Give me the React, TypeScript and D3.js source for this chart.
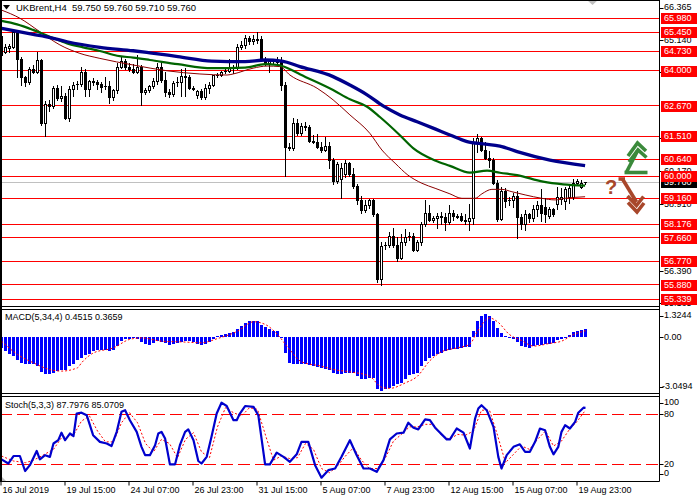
import React from 'react';
import * as d3 from 'd3';

// ---------- DATA ----------
const dateLabels = ['16 Jul 2019', '19 Jul 15:00', '24 Jul 07:00', '26 Jul 23:00', '31 Jul 15:00', '5 Aug 07:00', '7 Aug 23:00', '12 Aug 15:00', '15 Aug 07:00', '19 Aug 23:00'];
const dateLabelBars = [0, 16, 32, 48, 64, 80, 96, 112, 128, 144];

// [open, high, low, close] per H4 bar
const ohlc: [number, number, number, number][] = [
  [65.30, 65.47, 64.55, 64.60], [64.72, 65.00, 64.65, 64.88], [64.85, 65.00, 64.72, 64.94], [64.90, 65.55, 64.85, 65.45], [65.45, 65.55, 63.75, 64.45],
  [64.45, 64.50, 63.45, 63.75], [63.75, 63.80, 63.40, 63.55], [63.55, 64.15, 63.50, 64.05], [64.05, 64.20, 63.90, 63.95], [63.95, 64.72, 63.90, 64.40],
  [64.40, 64.45, 61.95, 62.00], [62.00, 62.85, 61.53, 62.75], [62.75, 62.90, 62.45, 62.65], [62.65, 63.40, 62.60, 63.35], [63.35, 63.45, 62.90, 62.95],
  [62.95, 63.40, 62.85, 63.05], [63.05, 63.15, 62.15, 62.20], [62.20, 63.40, 62.10, 63.30], [63.30, 63.55, 63.05, 63.45], [63.45, 63.60, 63.30, 63.50],
  [63.50, 64.15, 63.40, 63.95], [63.95, 64.05, 63.05, 63.30], [63.30, 63.65, 63.05, 63.60], [63.60, 63.70, 63.45, 63.55], [63.55, 63.65, 63.30, 63.50],
  [63.50, 63.55, 63.20, 63.38], [63.38, 63.75, 63.30, 63.42], [63.42, 63.60, 62.76, 63.00], [63.00, 63.30, 62.90, 63.25], [63.25, 64.30, 63.15, 64.15],
  [64.15, 64.55, 64.10, 64.35], [64.35, 64.45, 64.05, 64.15], [64.15, 64.30, 64.00, 64.05], [64.05, 64.25, 63.90, 63.95], [63.95, 64.60, 63.90, 64.15],
  [64.15, 64.20, 62.70, 63.20], [63.20, 63.35, 63.10, 63.25], [63.25, 63.45, 63.20, 63.40], [63.40, 63.70, 63.35, 63.62], [63.62, 64.30, 63.50, 64.15],
  [64.15, 64.30, 63.55, 63.65], [63.65, 63.95, 63.05, 63.20], [63.20, 63.30, 63.00, 63.10], [63.10, 63.60, 63.05, 63.52], [63.52, 63.75, 63.40, 63.55],
  [63.55, 64.05, 63.05, 63.80], [63.80, 64.10, 63.05, 63.75], [63.75, 63.85, 63.30, 63.35], [63.35, 63.42, 63.28, 63.30], [63.06, 63.25, 62.95, 63.22],
  [63.22, 63.30, 62.92, 62.98], [62.98, 63.50, 62.92, 63.33], [63.33, 63.55, 63.15, 63.45], [63.45, 63.85, 63.40, 63.83], [63.83, 63.90, 63.75, 63.85],
  [63.85, 64.00, 63.80, 63.95], [63.95, 64.05, 63.90, 64.00], [64.00, 64.45, 63.95, 64.12], [64.12, 64.20, 63.90, 64.10], [64.10, 65.00, 64.05, 64.90],
  [64.88, 65.10, 64.80, 64.95], [64.95, 65.35, 64.85, 65.25], [65.25, 65.30, 65.00, 65.10], [65.10, 65.35, 65.00, 65.20], [65.20, 65.47, 65.05, 65.18],
  [65.18, 65.30, 64.35, 64.40], [64.40, 64.50, 64.20, 64.30], [64.30, 64.45, 63.95, 64.35], [64.35, 64.45, 64.25, 64.38], [64.38, 64.50, 64.30, 64.35],
  [64.35, 64.50, 63.25, 63.45], [63.45, 63.55, 60.00, 61.10], [61.10, 61.25, 61.00, 61.08], [61.08, 62.20, 61.00, 62.00], [62.00, 62.15, 61.55, 61.62],
  [61.62, 62.00, 61.55, 61.90], [61.90, 62.05, 61.75, 61.85], [61.85, 61.95, 61.30, 61.35], [61.35, 61.55, 61.25, 61.30], [61.30, 61.60, 61.05, 61.12],
  [61.12, 61.30, 60.90, 61.00], [61.00, 61.50, 60.95, 61.15], [61.15, 61.30, 60.30, 60.60], [60.60, 60.70, 59.70, 59.80], [59.80, 60.55, 59.75, 60.45],
  [59.90, 60.50, 59.16, 60.30], [60.10, 60.60, 59.95, 60.50], [60.50, 60.55, 60.00, 60.10], [60.10, 60.30, 59.55, 59.62], [59.62, 59.70, 58.95, 59.10],
  [59.10, 59.25, 58.60, 58.70], [58.70, 59.10, 58.65, 58.90], [58.90, 59.15, 58.80, 59.08], [59.08, 59.15, 58.50, 58.55], [58.55, 58.60, 56.00, 56.10],
  [56.10, 57.50, 55.88, 57.35], [57.35, 57.50, 57.25, 57.40], [57.40, 57.90, 57.30, 57.75], [57.75, 58.05, 57.30, 57.40], [57.40, 57.70, 56.80, 56.90],
  [56.90, 57.80, 56.85, 57.50], [57.50, 58.00, 57.40, 57.70], [57.70, 57.90, 57.60, 57.75], [57.75, 57.85, 57.15, 57.20], [57.20, 57.60, 57.15, 57.50],
  [57.50, 58.25, 57.40, 58.18], [58.18, 59.10, 58.10, 58.60], [58.60, 58.90, 58.30, 58.35], [58.35, 58.50, 58.25, 58.40], [58.40, 58.60, 58.05, 58.50],
  [58.50, 58.65, 58.20, 58.45], [58.45, 58.60, 57.95, 58.25], [58.25, 58.90, 58.20, 58.60], [58.60, 58.70, 58.35, 58.50], [58.50, 58.55, 58.40, 58.48],
  [58.48, 58.60, 58.30, 58.35], [58.35, 58.55, 58.20, 58.30], [58.30, 58.95, 57.95, 58.40], [58.40, 61.45, 58.20, 61.30], [61.30, 61.60, 60.90, 61.45],
  [61.45, 61.50, 60.95, 61.00], [61.00, 61.30, 60.65, 60.70], [60.70, 60.95, 60.35, 60.60], [60.60, 60.70, 59.70, 59.75], [59.75, 59.85, 58.30, 58.38],
  [58.38, 59.60, 58.35, 59.45], [59.45, 59.55, 58.85, 59.05], [59.05, 59.20, 58.90, 59.10], [59.10, 59.35, 58.85, 59.25], [59.25, 59.45, 57.66, 58.45],
  [58.45, 58.55, 58.00, 58.20], [58.20, 58.70, 57.95, 58.58], [58.58, 58.60, 58.25, 58.40], [58.40, 58.90, 58.30, 58.75], [58.75, 59.05, 58.50, 58.90],
  [58.90, 59.50, 58.30, 58.60], [58.85, 59.16, 58.28, 58.57], [58.50, 58.85, 58.40, 58.74], [58.74, 58.80, 58.50, 58.55], [58.95, 59.60, 58.75, 59.20],
  [59.15, 59.55, 58.95, 59.22], [59.05, 59.60, 58.75, 59.50], [59.20, 59.70, 59.00, 59.55], [59.22, 59.90, 59.15, 59.75], [59.75, 59.88, 59.70, 59.80],
  [59.60, 59.85, 59.55, 59.75], [59.75, 59.76, 59.71, 59.76],
];

const levelPrices = [65.98, 65.45, 64.73, 64.0, 62.67, 61.51, 60.64, 60.0, 59.16, 58.176, 57.66, 56.77, 55.88, 55.339];
const levelLabels = ['65.980', '65.450', '64.730', '64.000', '62.670', '61.510', '60.640', '60.000', '59.160', '58.176', '57.660', '56.770', '55.880', '55.339'];
const priceTicks = [66.365, 65.14, 63.915, 61.43, 60.17, 58.91, 56.39, 55.165];
const priceTickLabels = ['66.365', '65.140', '63.915', '61.430', '60.170', '58.910', '56.390', '55.165'];
const currentPrice = 59.76;
const titleText = 'UKBrent,H4  59.750 59.760 59.710 59.760';

// moving averages: [bar, price]
const maBlue: [number, number][] = [
  [0, 65.6], [7.9, 65.37], [12.1, 65.25], [16.4, 65.09], [24.6, 64.88], [32.9, 64.75], [37.1, 64.67], [44.1, 64.53], [52.6, 64.36],
  [60.9, 64.34], [65.9, 64.4], [70.1, 64.36], [74.6, 64.15], [82.9, 63.77], [87.1, 63.45], [91.4, 63.08], [95.4, 62.66], [99.6, 62.32],
  [103.9, 62.06], [107.9, 61.82], [112.1, 61.56], [116.4, 61.31], [120.4, 61.22], [124.6, 61.14], [128.9, 60.93], [137.1, 60.61], [145.9, 60.4],
];
const maGreen: [number, number][] = [
  [0, 65.88], [3.9, 65.75], [7.9, 65.54], [12.1, 65.28], [16.4, 65.03], [20.4, 64.88], [24.6, 64.74], [28.9, 64.56], [32.9, 64.49],
  [37.1, 64.4], [44.1, 64.24], [52.6, 64.09], [60.9, 64.11], [65.9, 64.24], [69.1, 64.21], [71.6, 64.09], [74.6, 63.86], [82.9, 63.26],
  [87.1, 62.91], [91.4, 62.63], [94.6, 62.24], [99.6, 61.55], [102.9, 61.06], [108.4, 60.59], [112.1, 60.39], [117.1, 60.13], [121.4, 60.21],
  [124.6, 60.13], [128.9, 60.04], [135.4, 59.79], [140.4, 59.69], [145.9, 59.64],
];
const maBrown: [number, number][] = [
  [0, 66.29], [4.6, 65.98], [9.6, 65.47], [14.6, 64.97], [19.6, 64.65], [24.6, 64.46], [32.9, 64.21], [41.4, 63.99], [49.6, 63.87],
  [56.4, 63.83], [57.9, 63.87], [62.9, 64.09], [66.4, 64.17], [69.6, 64.15], [72.1, 63.83], [78.9, 63.33], [82.9, 62.89], [87.1, 62.32],
  [92.1, 61.62], [95.1, 60.99], [98.4, 60.49], [101.6, 60.04], [105.1, 59.73], [108.4, 59.54], [112.1, 59.33], [115.1, 59.16], [118.4, 59.16],
  [120.1, 59.33], [122.6, 59.5], [125.1, 59.5], [127.6, 59.41], [130.9, 59.29], [135.1, 59.16], [138.4, 59.1], [140.9, 59.16], [145.9, 59.22],
];

const macdHist = [
  -0.61, -0.80, -0.95, -1.09, -1.28, -1.47, -1.52, -1.56, -1.56, -1.66,
  -1.98, -2.10, -2.13, -2.04, -1.94, -1.89, -1.85, -1.66, -1.56, -1.33,
  -1.18, -1.03, -0.95, -0.80, -0.76, -0.76, -0.76, -0.80, -0.74, -0.51,
  -0.23, -0.10, -0.08, -0.04, -0.08, -0.27, -0.38, -0.42, -0.32, -0.23,
  -0.27, -0.32, -0.42, -0.38, -0.32, -0.27, -0.23, -0.23, -0.29, -0.38,
  -0.42, -0.38, -0.27, -0.08, 0.04, 0.10, 0.19, 0.23, 0.29, 0.44,
  0.63, 0.82, 0.91, 0.95, 0.91, 0.72, 0.57, 0.44, 0.38, 0.34,
  -0.04, -0.90, -1.47, -1.52, -1.52, -1.56, -1.56, -1.60, -1.66, -1.71,
  -1.75, -1.81, -1.90, -2.04, -2.10, -2.10, -2.04, -2.04, -2.04, -2.23,
  -2.42, -2.42, -2.32, -2.36, -2.97, -3.0494, -2.99, -2.90, -2.80, -2.70,
  -2.61, -2.42, -2.17, -2.13, -2.04, -1.66, -1.37, -1.18, -1.09, -0.95,
  -0.90, -0.80, -0.76, -0.70, -0.67, -0.61, -0.57, -0.55, 0.38, 0.95,
  1.20, 1.3244, 1.20, 0.95, 0.53, 0.25, 0.06, -0.04, -0.08, -0.27,
  -0.51, -0.57, -0.61, -0.51, -0.46, -0.42, -0.38, -0.38, -0.32, -0.19,
  -0.08, 0.00, 0.15, 0.29, 0.38, 0.42, 0.4515,
];
const macdSignal: [number, number][] = [
  [0, -0.23], [4, -0.99], [8, -1.47], [12, -1.85], [15, -1.94], [19, -1.75], [20, -1.47], [23, -0.9], [28, -0.61], [32, -0.13],
  [35, -0.04], [40, -0.23], [45, -0.27], [50, -0.32], [54, -0.08], [59, 0.34], [63, 0.88], [66, 0.72], [69, 0.15], [72, -0.7],
  [75, -1.41], [80, -1.66], [83, -1.85], [87, -1.98], [92, -2.23], [95, -2.86], [97, -2.93], [101, -2.61], [104, -2.23], [107, -1.37],
  [110, -0.84], [114, -0.61], [117, -0.42], [119, 0.34], [122, 1.1], [124, 0.88], [127, 0.15], [130, -0.19], [133, -0.51], [137, -0.36],
  [140, -0.23], [143, 0.15], [146, 0.3659],
];
const macdTicks = [1.3244, 0, -3.0494];
const macdTickLabels = ['1.3244', '0.00', '-3.0494'];

const stochMain: [number, number][] = [
  [0, 26], [1.7, 21], [3, 30], [4.6, 30], [5.9, 12], [7.1, 19], [8.8, 36], [9.6, 26], [10.9, 31], [12.1, 29], [13, 45], [14.2, 49],
  [15, 58], [15.9, 49], [17.1, 57], [18, 54], [18.8, 81], [20, 82], [21.3, 79], [22.9, 55], [24.6, 47], [26.3, 45], [27.5, 42],
  [28.8, 59], [30, 83], [30.9, 85], [32.1, 73], [33.8, 59], [35, 41], [35.9, 31], [37.1, 31], [38.4, 43], [39.2, 57], [40, 59],
  [40.9, 51], [42.1, 20], [43.4, 20], [44.6, 43], [45.9, 59], [46.7, 62], [48, 49], [49.2, 24], [50, 21], [51.3, 29], [52.5, 53],
  [53.8, 81], [55, 94], [56.3, 90], [58, 73], [58.8, 73], [59.6, 81], [60.9, 90], [63, 89], [64.2, 79], [65.9, 20], [67.1, 20],
  [68.8, 34], [70.5, 29], [72.1, 23], [73.8, 32], [75, 47], [76.7, 47], [78.4, 19], [80, 4], [81.7, 13], [83.4, 15], [85, 29],
  [87.1, 49], [88.8, 31], [90.5, 15], [92.1, 15], [93.8, 11], [95.5, 25], [97.1, 50], [98.8, 57], [100.5, 58], [101.7, 70],
  [103, 64], [104.2, 62], [105.9, 74], [107.1, 73], [108.4, 64], [111.3, 50], [112.1, 50], [113.8, 63], [115.5, 58], [117.1, 39],
  [118.4, 75], [119.2, 87], [120, 91], [121.3, 85], [123, 65], [124.2, 29], [125, 15], [126.3, 31], [128, 41], [129.6, 44],
  [130.9, 35], [132.1, 35], [133.4, 47], [134.6, 63], [135.9, 61], [137.1, 41], [138, 32], [139.2, 41], [140, 59], [140.9, 67],
  [142.1, 63], [143.4, 71], [144.2, 82], [145.5, 88], [146, 87.7976],
];
const stochSignal: [number, number][] = [
  [0, 30], [3, 24], [6, 22], [8, 25], [10, 30], [13, 38], [15, 52], [18, 55], [20, 72], [22, 78], [24, 60], [26, 47], [28, 47],
  [30, 70], [32, 82], [34, 70], [36, 45], [38, 35], [40, 50], [42, 45], [44, 28], [46, 50], [48, 58], [50, 35], [52, 28], [54, 65],
  [56, 88], [58, 82], [60, 78], [62, 88], [64, 86], [66, 55], [68, 25], [70, 30], [72, 27], [74, 28], [76, 45], [78, 38], [80, 15],
  [82, 10], [84, 18], [86, 30], [88, 40], [90, 25], [92, 15], [94, 15], [96, 28], [98, 48], [100, 56], [102, 65], [104, 65],
  [106, 68], [108, 68], [110, 55], [112, 50], [114, 56], [116, 55], [118, 60], [120, 85], [122, 85], [124, 55], [126, 22],
  [128, 32], [130, 42], [132, 38], [134, 50], [136, 60], [138, 42], [140, 48], [142, 62], [144, 72], [146, 85.0709],
];
const stochLevels = [80, 20];
const stochTicks = [100, 80, 20, 0];
const macdTitle = 'MACD(5,34,4) 0.4515 0.3659';
const stochTitle = 'Stoch(5,3,3) 87.7976 85.0709';

// ---------- COMPONENT ----------
const FONT = '"Liberation Sans", Arial, sans-serif';

export default function App() {
  const W = 700, H = 500;
  const axisX = 659.5;
  const mainBot = 306.5;
  const macdTop = 309.5, macdBot = 393.5;
  const stTop = 396.5, stBot = 481.5;

  const x = d3.scaleLinear().domain([0, 146]).range([1.5, 585.5]);
  const yP = d3.scaleLinear().domain([55.165, 66.365]).range([303.8, 8.1]);
  const yM = d3.scaleLinear().domain([-3.0494, 1.3244]).range([390.5, 314]);
  const yS = d3.scaleLinear().domain([0, 100]).range([481, 397.7]);

  const maLine = d3.line<[number, number]>().x(d => x(d[0])).y(d => yP(d[1])).curve(d3.curveMonotoneX);
  const macdLine = d3.line<[number, number]>().x(d => x(d[0])).y(d => yM(d[1])).curve(d3.curveMonotoneX);
  const stLine = d3.line<[number, number]>().x(d => x(d[0])).y(d => yS(d[1])).curve(d3.curveLinear);

  const snap = (v: number) => Math.round(v - 0.5) + 0.5;
  const clamp = (v: number, a: number, b: number) => Math.max(a, Math.min(b, v));

  const green = '#3b8a3b';
  const brown = '#a8472b';

  return (
    <svg width={W} height={H} style={{ position: 'absolute', left: 0, top: 0, background: '#fff' }} fontFamily={FONT}>
      <rect x={0} y={0} width={W} height={H} fill="#fff" />

      {/* level lines */}
      {levelPrices.map((p, i) => (
        <line key={'lv' + i} x1={0} x2={axisX} y1={snap(yP(p))} y2={snap(yP(p))} stroke="#ff0000" strokeWidth={1} />
      ))}
      <line x1={0} x2={axisX} y1={snap(yP(currentPrice))} y2={snap(yP(currentPrice))} stroke="#c0c0c0" strokeWidth={1} />

      {/* candles */}
      {ohlc.map(([o, h, l, c], i) => {
        const cx = x(i);
        const top = Math.round(yP(Math.max(o, c)));
        const bot = Math.round(yP(Math.min(o, c)));
        const bull = c >= o;
        const hgt = Math.max(1, bot - top);
        return (
          <g key={'c' + i}>
            <line x1={cx} x2={cx} y1={Math.round(yP(h))} y2={Math.round(yP(l)) + 1} stroke="#000" strokeWidth={1} />
            {bull ? (
              hgt <= 1 ? (
                <line x1={cx - 1.5} x2={cx + 1.5} y1={top + 0.5} y2={top + 0.5} stroke="#000" strokeWidth={1} />
              ) : (
                <rect x={cx - 1} y={top + 0.5} width={2} height={hgt} fill="#fff" stroke="#000" strokeWidth={1} />
              )
            ) : (
              <rect x={cx - 1.5} y={top} width={3} height={hgt + 1} fill="#000" />
            )}
          </g>
        );
      })}

      {/* moving averages */}
      <path d={maLine(maBrown) || ''} fill="none" stroke="#8b0000" strokeWidth={1} />
      <path d={maLine(maGreen) || ''} fill="none" stroke="#006400" strokeWidth={2.2} />
      <path d={maLine(maBlue) || ''} fill="none" stroke="#00008b" strokeWidth={3.3} />

      {/* arrows */}
      <g fill="none" stroke={green} strokeWidth={3.6} strokeLinejoin="miter" strokeLinecap="butt">
        <path d="M624.5,172.5 H647.5" />
        <path d="M626.5,172 L637.5,151" />
        <path d="M628,156 L637.5,143 L646,151" />
        <path d="M629,162 L638,150 L646.5,157.5" />
      </g>
      <g fill="none" stroke={brown} strokeWidth={3.6} strokeLinejoin="miter" strokeLinecap="butt">
        <path d="M618.5,179 H625" />
        <path d="M622.5,179 L636.5,202" />
        <path d="M627.5,196 L636.5,205.5 L643.5,196.5" />
        <path d="M628,202.5 L637,212 L644,203" />
      </g>
      <text x={605} y={193.5} fontSize={20} fontWeight="bold" fill={brown} fontFamily={FONT}>?</text>

      {/* chart shift marker */}
      <polygon points="587,0 598,0 592.5,5" fill="#c0c0c0" />

      {/* title */}
      <polygon points="3,5 10,5 6.5,9.5" fill="#000" />
      <text x={16} y={8} fontSize={9.5} dominantBaseline="middle" fill="#000" style={{ whiteSpace: 'pre' }}>{titleText}</text>

      {/* MACD panel */}
      {macdHist.map((v, i) => {
        const y0 = Math.round(yM(0));
        const y1 = Math.round(yM(v));
        const top = Math.min(y0, y1);
        const hgt = Math.max(1, Math.abs(y1 - y0));
        return <rect key={'m' + i} x={x(i) - 1.5} y={top} width={3} height={hgt} fill="#0000ff" />;
      })}
      <path d={macdLine(macdSignal) || ''} fill="none" stroke="#ff0000" strokeWidth={1} strokeDasharray="2,2" />
      <text x={5} y={318} fontSize={9} dominantBaseline="middle" fill="#000">{macdTitle}</text>

      {/* Stoch panel */}
      {stochLevels.map((lv, i) => (
        <line key={'sl' + i} x1={0} x2={axisX} y1={snap(yS(lv))} y2={snap(yS(lv))} stroke="#ff0000" strokeWidth={1} strokeDasharray="12,5" />
      ))}
      <path d={stLine(stochSignal) || ''} fill="none" stroke="#ff0000" strokeWidth={1} strokeDasharray="2,2" />
      <path d={stLine(stochMain) || ''} fill="none" stroke="#0000cd" strokeWidth={2.2} strokeLinejoin="round" />
      <text x={5} y={406} fontSize={9} dominantBaseline="middle" fill="#000">{stochTitle}</text>
      <polygon points="1,476 1,481 6,481" fill="#c0c0c0" />

      {/* frames */}
      <g stroke="#000" strokeWidth={1}>
        <line x1={0} x2={axisX} y1={0.5} y2={0.5} />
        <line x1={0} x2={axisX} y1={mainBot} y2={mainBot} />
        <line x1={0} x2={axisX} y1={macdTop} y2={macdTop} />
        <line x1={0} x2={axisX} y1={macdBot} y2={macdBot} />
        <line x1={0} x2={axisX} y1={stTop} y2={stTop} />
        <line x1={0} x2={axisX} y1={stBot} y2={stBot} />
        <line x1={axisX} x2={axisX} y1={0} y2={stBot} />
      </g>
      <line x1={1} x2={1} y1={0} y2={stBot} stroke="#000" strokeWidth={2} />

      {/* right price axis */}
      {priceTicks.map((p, i) => (
        <g key={'pt' + i}>
          <line x1={axisX} x2={axisX + 4} y1={snap(yP(p))} y2={snap(yP(p))} stroke="#000" />
          <text x={664} y={yP(p)} fontSize={9} dominantBaseline="middle" fill="#000">{priceTickLabels[i]}</text>
        </g>
      ))}
      <g>
        <rect x={661} y={Math.round(yP(currentPrice)) - 5} width={36} height={11} fill="#000" />
        <text x={664} y={yP(currentPrice) + 0.5} fontSize={9} dominantBaseline="middle" fill="#fff">{currentPrice.toFixed(3)}</text>
      </g>
      {levelPrices.map((p, i) => (
        <g key={'ll' + i}>
          <rect x={661} y={Math.round(yP(p)) - 5} width={36} height={11} fill="#ff0000" />
          <text x={664} y={yP(p) + 0.5} fontSize={9} dominantBaseline="middle" fill="#fff">{levelLabels[i]}</text>
        </g>
      ))}

      {/* MACD axis */}
      {macdTicks.map((v, i) => {
        const yy = clamp(yM(v), macdTop + 6.5, macdBot - 6.5);
        return (
          <g key={'mt' + i}>
            <line x1={axisX} x2={axisX + 4} y1={snap(yy)} y2={snap(yy)} stroke="#000" />
            <text x={v < 0 ? 662 : 664} y={yy} fontSize={9} dominantBaseline="middle" fill="#000">{macdTickLabels[i]}</text>
          </g>
        );
      })}

      {/* Stoch axis */}
      {stochTicks.map((v, i) => {
        const yy = clamp(yS(v), stTop + 6.5, stBot - 7.5);
        return (
          <g key={'st' + i}>
            <line x1={axisX} x2={axisX + 4} y1={snap(yy)} y2={snap(yy)} stroke="#000" />
            <text x={664} y={yy} fontSize={9} dominantBaseline="middle" fill="#000">{String(v)}</text>
          </g>
        );
      })}

      {/* date axis */}
      {dateLabelBars.map((b, i) => (
        <g key={'d' + i}>
          <line x1={x(b) - 0.5} x2={x(b) - 0.5} y1={stBot} y2={stBot + 4} stroke="#000" />
          <text x={x(b) + 1} y={491} fontSize={9} dominantBaseline="middle" fill="#000">{dateLabels[i]}</text>
        </g>
      ))}
    </svg>
  );
}
